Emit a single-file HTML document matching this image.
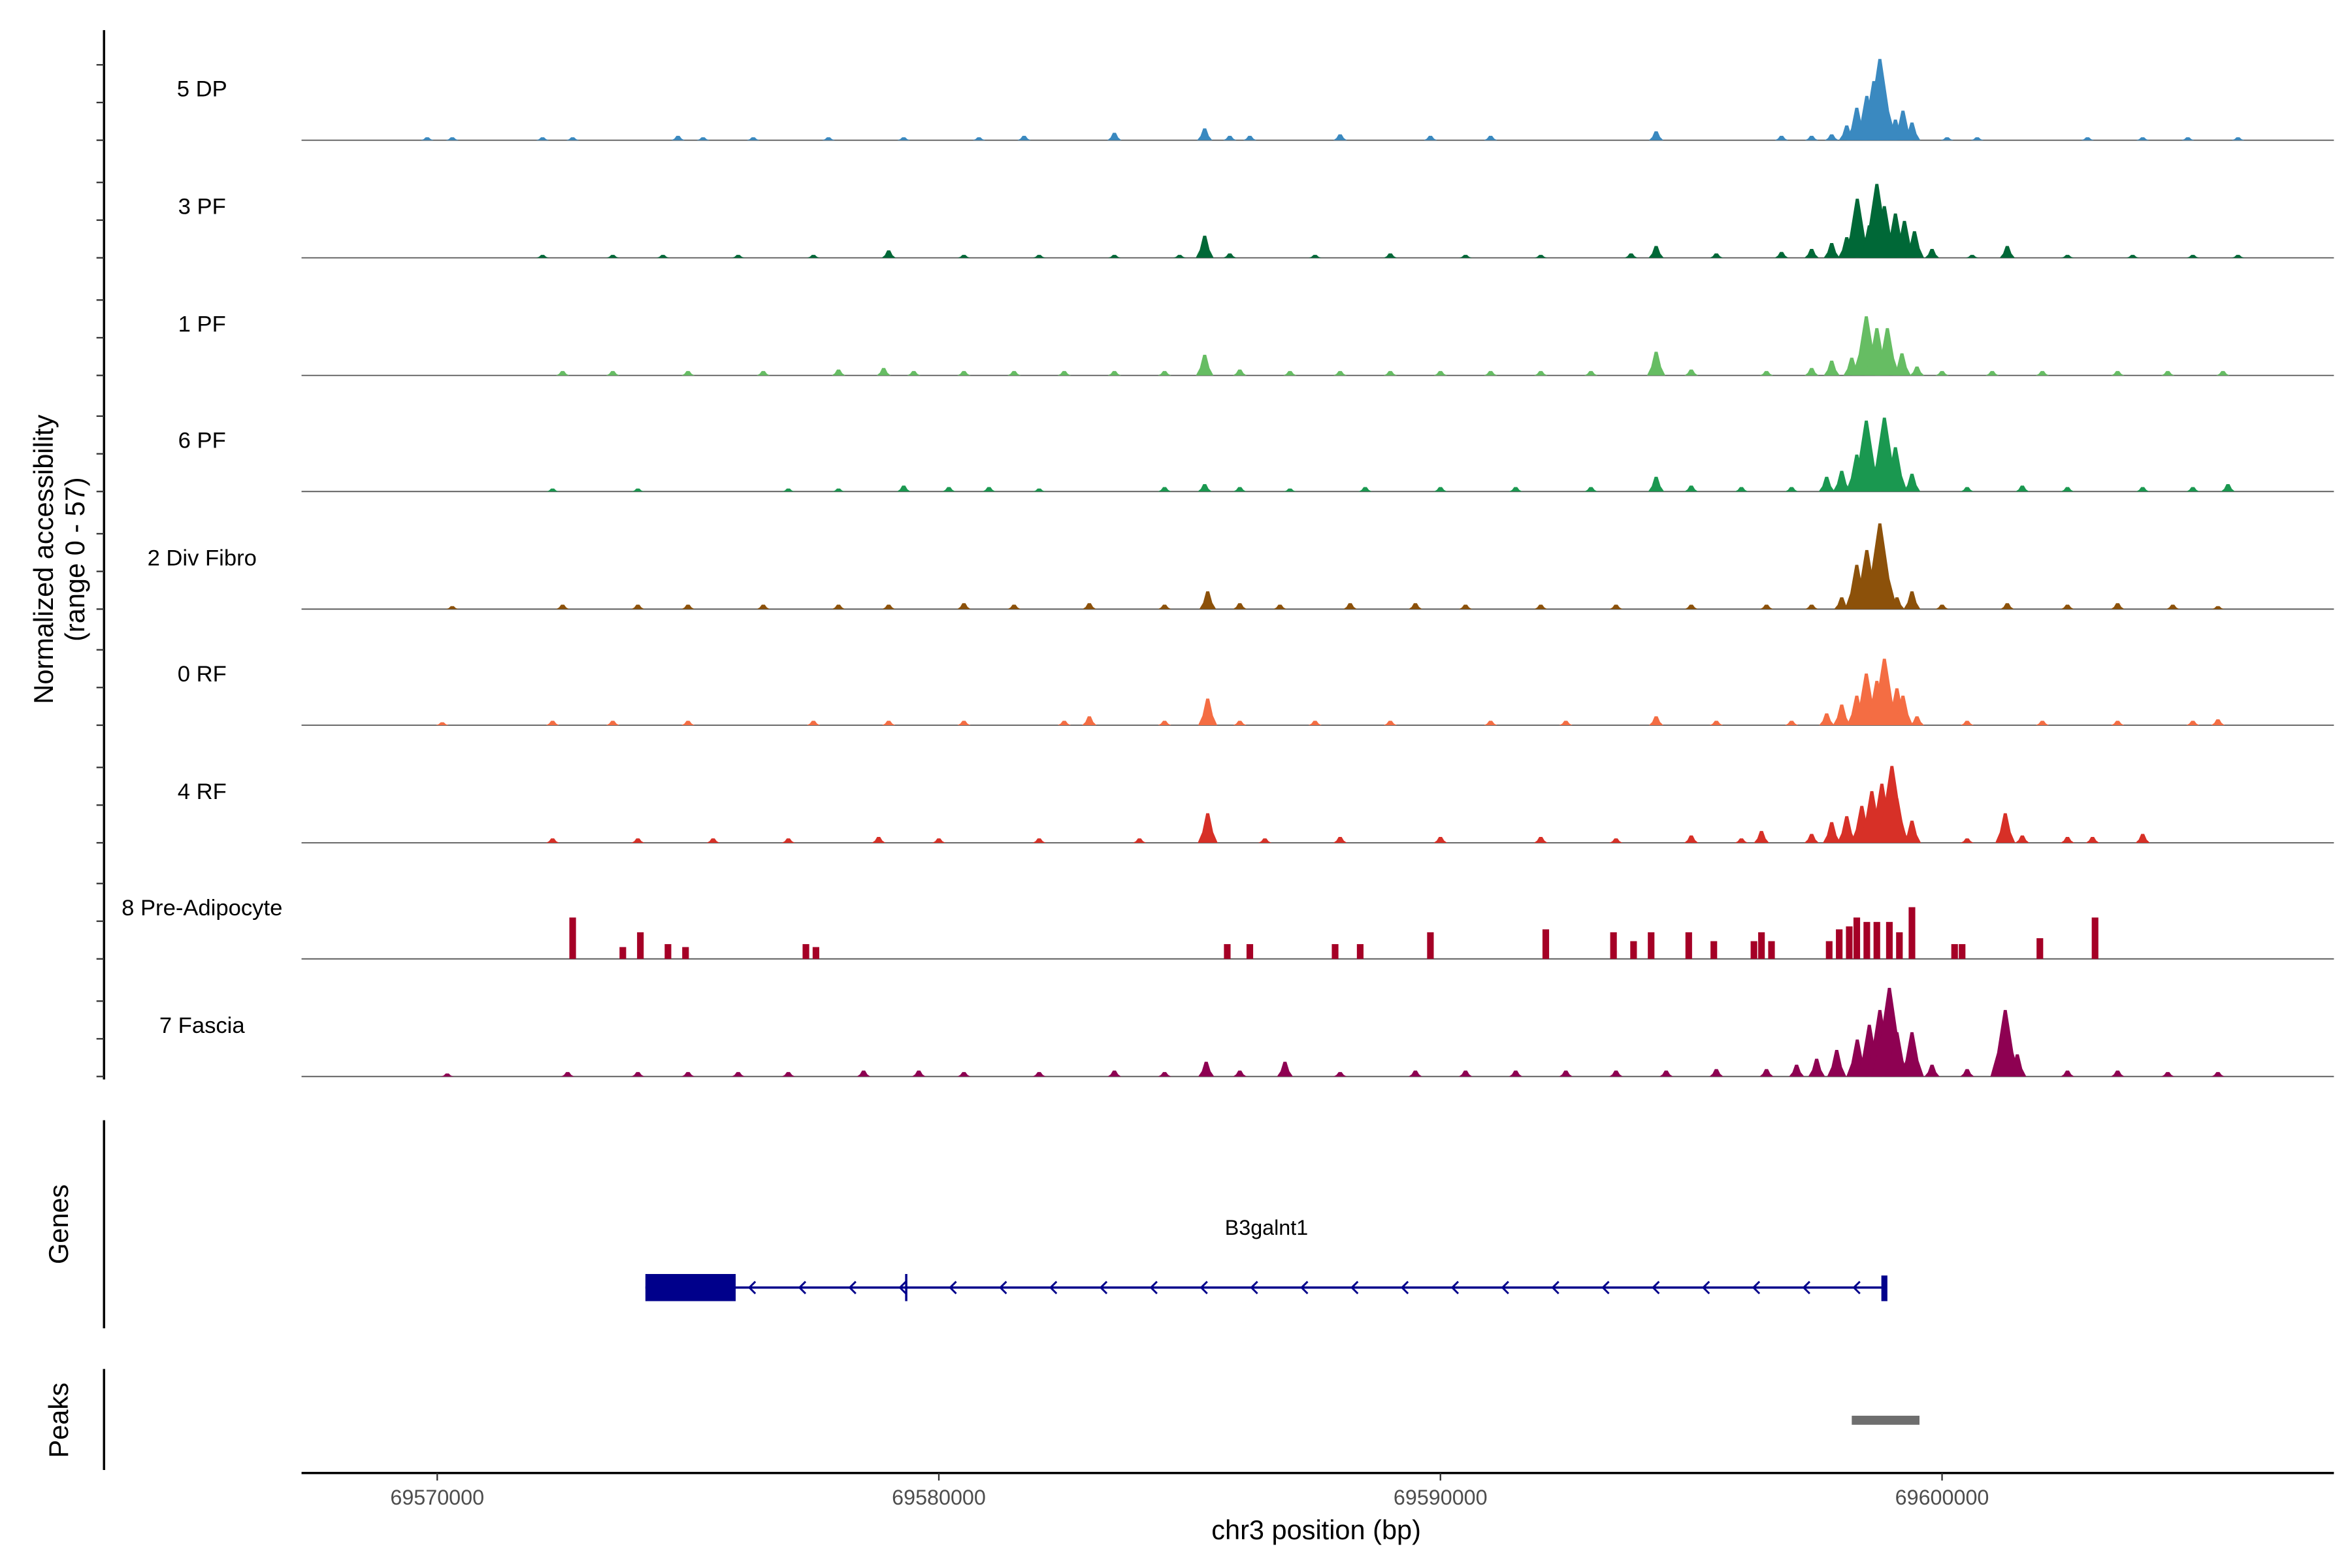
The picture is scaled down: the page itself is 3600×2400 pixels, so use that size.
<!DOCTYPE html>
<html><head><meta charset="utf-8"><style>
html,body{margin:0;padding:0;background:#fff}
svg{display:block}
text{font-family:"Liberation Sans",sans-serif}
</style></head><body>
<svg id="chart" xmlns="http://www.w3.org/2000/svg" width="3600" height="2400" viewBox="0 0 1560 1040">
<rect width="1560" height="1040" fill="#fff"/>
<g id="tracks"></g>
<line x1="69" y1="20" x2="69" y2="716" stroke="#000" stroke-width="1.5"/>
<g id="yticks"></g>
<text transform="translate(35,371) rotate(-90)" text-anchor="middle" font-size="18">Normalized accessibility</text>
<text transform="translate(56,371) rotate(-90)" text-anchor="middle" font-size="18">(range 0 - 57)</text>
<line x1="69" y1="743" x2="69" y2="881" stroke="#000" stroke-width="1.5"/>
<text transform="translate(45,812) rotate(-90)" text-anchor="middle" font-size="18">Genes</text>
<line x1="69" y1="908" x2="69" y2="975" stroke="#000" stroke-width="1.5"/>
<text transform="translate(45,942) rotate(-90)" text-anchor="middle" font-size="18">Peaks</text>
<g id="gene"></g>
<g id="peaks"></g>
<line x1="200" y1="977" x2="1548" y2="977" stroke="#000" stroke-width="1.5"/>
<g id="xticks"></g>
<text x="873" y="1021" text-anchor="middle" font-size="18">chr3 position (bp)</text>
</svg>
<script>
// x values in kb (chr3)
const xTicksKb = [69570, 69580, 69590, 69600];
const xTickLabels = ["69570000", "69580000", "69590000", "69600000"];
const trackNames = ["5 DP","3 PF","1 PF","6 PF","2 Div Fibro","0 RF","4 RF","8 Pre-Adipocyte","7 Fascia"];
const trackColors = ["#3a89c0","#006837","#66bd63","#1a9850","#8c510a","#f46d43","#d73027","#a50026","#8e0152"];
// peaks: positions (kb offset from 69570), heights (0-57)
const pos5DP = [-0.2,0.3,2.1,2.7,4.8,5.3,6.3,7.8,9.3,10.8,11.7,13.5,15.3,15.8,16.2,18.0,19.8,21.0,24.3,26.8,27.4,27.8,28.1,28.3,28.5,28.64,28.76,28.91,29.07,29.22,29.4,30.1,30.7,32.9,34.0,34.9,35.9];
const h5DP   = [2,2,2,2,3,2,2,2,2,2,3,5,8,3,3,4,3,3,6,3,3,4,10,22,30,40,55,20,14,20,12,2,2,2,2,2,2];
const pos3PF = [2.1,3.5,4.5,6.0,7.5,9.0,10.5,12.0,13.5,14.8,15.3,15.8,17.5,19.0,20.5,22.0,23.8,24.3,25.5,26.8,27.4,27.8,28.1,28.31,28.55,28.7,28.85,29.07,29.25,29.45,29.8,30.6,31.3,32.5,33.8,35.0,35.9];
const h3PF   = [2,2,2,2,2,5,2,2,2,2,15,3,2,3,2,2,3,8,3,4,6,10,14,40,22,50,35,30,25,18,6,2,8,2,2,2,2];
const pos1PF = [2.5,3.5,5.0,6.5,8.0,8.9,9.5,10.5,11.5,12.5,13.5,14.5,15.3,16.0,17.0,18.0,19.0,20.0,21.0,22.0,23.0,24.3,25.0,26.5,27.4,27.8,28.2,28.49,28.7,28.91,29.2,29.5,30.0,31.0,32.0,33.5,34.5,35.6];
const h1PF   = [3,3,3,3,4,5,3,3,3,3,3,3,14,4,3,3,3,3,3,3,3,16,4,3,5,10,12,40,32,32,15,6,3,3,3,3,3,3];
const pos6PF = [2.3,4.0,7.0,8.0,9.3,10.2,11.0,12.0,14.5,15.3,16.0,17.0,18.5,20.0,21.5,23.0,24.3,25.0,26.0,27.0,27.7,28.0,28.3,28.49,28.85,29.07,29.4,30.5,31.6,32.5,34.0,35.0,35.7];
const h6PF   = [2,2,2,2,4,3,3,2,3,5,3,2,3,3,3,3,10,4,3,3,10,14,25,48,50,30,12,3,4,3,3,3,5];
const posDiv = [0.3,2.5,4.0,5.0,6.5,8.0,9.0,10.5,11.5,13.0,14.5,15.36,16.0,16.8,18.2,19.5,20.5,22.0,23.5,25.0,26.5,27.4,28.0,28.3,28.5,28.76,29.1,29.4,30.0,31.3,32.5,33.5,34.6,35.5];
const hDiv   = [2,3,3,3,3,3,3,4,3,4,3,12,4,3,4,4,3,3,3,3,3,3,8,30,40,58,8,12,3,4,3,4,3,2];
const posRF0 = [0.1,2.3,3.5,5.0,7.5,9.0,10.5,12.5,13.0,14.5,15.36,16.0,17.5,19.0,21.0,22.5,24.3,25.5,27.0,27.7,28.0,28.3,28.49,28.7,28.85,29.1,29.22,29.5,30.5,32.0,33.5,35.0,35.5];
const hRF0   = [2,3,3,3,3,3,3,3,6,3,18,3,3,3,3,3,6,3,3,8,14,20,35,30,45,25,20,6,3,3,3,3,4];
const posRF4 = [2.3,4.0,5.5,7.0,8.8,10.0,12.0,14.0,15.36,16.5,18.0,20.0,22.0,23.5,25.0,26.0,26.4,27.4,27.8,28.1,28.4,28.6,28.8,29.0,29.1,29.4,30.5,31.26,31.6,32.5,33.0,34.0];
const hRF4   = [3,3,3,3,4,3,3,3,20,3,4,4,4,3,5,3,8,6,14,18,25,35,40,52,30,15,3,20,5,4,4,6];
const posPre = [2.7,3.7,4.05,4.6,4.95,7.35,7.55,15.75,16.2,17.9,18.4,19.8,22.1,23.45,23.85,24.2,24.95,25.45,26.25,26.4,26.6,27.75,27.95,28.15,28.3,28.5,28.7,28.95,29.15,29.4,30.25,30.4,31.95,33.05];
const hPre   = [28,8,18,10,8,10,8,10,10,10,10,18,20,18,12,18,18,12,12,18,12,12,20,22,28,25,25,25,18,35,10,10,14,28];
const posFas = [0.2,2.6,4.0,5.0,6.0,7.0,8.5,9.6,10.5,12.0,13.5,14.5,15.33,16.0,16.9,18.0,19.5,20.5,21.5,22.5,23.5,24.5,25.5,26.5,27.1,27.5,27.9,28.31,28.55,28.76,28.95,29.1,29.4,29.8,30.5,31.26,31.5,32.5,33.5,34.5,35.5];
const hFas   = [2,3,3,3,3,3,4,4,3,3,4,3,10,4,10,3,4,4,4,4,4,4,5,5,8,12,18,25,35,45,60,30,30,8,5,45,15,4,4,3,3];

const positions = [pos5DP,pos3PF,pos1PF,pos6PF,posDiv,posRF0,posRF4,posPre,posFas];
const heights = [h5DP,h3PF,h1PF,h6PF,hDiv,hRF0,hRF4,hPre,hFas];

const NS = "http://www.w3.org/2000/svg";
function xScale(kbOffset){ return 290 + kbOffset*33.27; }
function xScaleAbs(kb){ return xScale(kb-69570); }
function yScale(base, v){ return base - v*0.98; }
function mk(tag, attrs, parent){ const e=document.createElementNS(NS,tag); for(const k in attrs) e.setAttribute(k,attrs[k]); parent.appendChild(e); return e; }

const tracksG = document.getElementById('tracks');
const yt = document.getElementById('yticks');
const baselines = [93,171,249,326,404,481,559,636,714];
trackNames.forEach((name,i)=>{
  const base = baselines[i];
  const g = mk('g',{},tracksG);
  
  
  const lab = mk('text',{x:134,y:base-29,'text-anchor':'middle','font-size':15,fill:'#000'},g);
  lab.textContent = name;
  
  
  const bl = mk('line',{x1:200,y1:base,x2:1548,y2:base,stroke:'#555','stroke-width':0.8},g);
  
  
  const isRect = (i===7);
  positions[i].forEach((p,j)=>{
    const h = heights[i][j];
    const cx = xScale(p);
    const top = yScale(base,h);
    let el;
    if(isRect){
      el = mk('rect',{x:cx-2.2,y:top,width:4.4,height:base-top,fill:trackColors[i]},g);
    } else {
      const hw = 4 + h*0.13;
      const sh = h*0.35;
      el = mk('polygon',{points:`${cx-hw},${base} ${cx-hw*0.55},${base-sh} ${cx-1},${top} ${cx+1},${top} ${cx+hw*0.55},${base-sh} ${cx+hw},${base}`,fill:trackColors[i]},g);
    }
    
    
  });
  [0,25,50].forEach(d=>{
    const t = mk('line',{x1:64,y1:base-d,x2:69,y2:base-d,stroke:'#333','stroke-width':1},yt);
    
    
  });
});

// gene model
const geneStartKb = 69574.15, geneEndKb = 69598.85, exonStart = 69574.15, exonEnd = 69575.95, innerExonKb = 69579.35;
const gg = document.getElementById('gene');
const gl = mk('text',{x:840,y:819,'text-anchor':'middle','font-size':14},gg);
gl.textContent='B3galnt1';


const gline = mk('line',{x1:xScaleAbs(geneStartKb),y1:854,x2:xScaleAbs(geneEndKb),y2:854,stroke:'#00008b','stroke-width':1.5},gg);


const ex = mk('rect',{x:xScaleAbs(exonStart),y:845,width:xScaleAbs(exonEnd)-xScaleAbs(exonStart),height:18,fill:'#00008b'},gg);


const ex2 = mk('rect',{x:xScaleAbs(geneEndKb)-2,y:846,width:4,height:17,fill:'#00008b'},gg);


const ex3 = mk('line',{x1:xScaleAbs(innerExonKb),y1:845,x2:xScaleAbs(innerExonKb),y2:863,stroke:'#00008b','stroke-width':1.5},gg);


for(let x=497; x<1240; x+=33.3){
  const a = mk('polyline',{points:`${x+4},850 ${x},854 ${x+4},858`,fill:'none',stroke:'#00008b','stroke-width':1.3},gg);
  
  
}

// peaks
const peakStarts = [69598.2];
const peakEnds = [69599.55];
const pg = document.getElementById('peaks');
peakStarts.forEach((s,i)=>{
  const r = mk('rect',{x:xScaleAbs(s),y:939,width:xScaleAbs(peakEnds[i])-xScaleAbs(s),height:6,fill:'#6e6e6e'},pg);
  
  
});

// x ticks
const xt = document.getElementById('xticks');
xTicksKb.forEach((k,i)=>{
  const x = xScaleAbs(k);
  const t = mk('line',{x1:x,y1:977,x2:x,y2:982,stroke:'#333','stroke-width':1},xt);
  
  
  const l = mk('text',{x:x,y:998,'text-anchor':'middle','font-size':14,fill:'#4d4d4d'},xt);
  l.textContent = xTickLabels[i];
  
  
});
</script>
</body></html>
